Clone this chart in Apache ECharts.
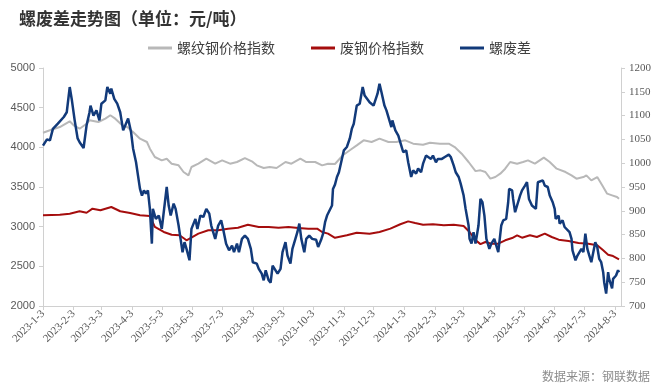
<!DOCTYPE html>
<html><head><meta charset="utf-8">
<script src="https://cdn.jsdelivr.net/npm/echarts@6/dist/echarts.min.js"></script>
<style>html,body{margin:0;padding:0;background:#fff}#c{width:660px;height:390px}</style>
</head><body><div id="c"></div>
<script>
const titleText = '螺废差走势图（单位：元/吨）';
const sourceText = '数据来源：钢联数据';
const seriesNames = ['螺纹钢价格指数', '废钢价格指数', '螺废差'];
const axisStart = '2023-01-03';
const axisEnd = '2024-08-09';
const tickDay = 3;

const rebarDates = ['2023-01-03','2023-01-10','2023-01-20','2023-01-30','2023-02-03','2023-02-09','2023-02-16','2023-02-19','2023-02-28','2023-03-07','2023-03-12','2023-03-17','2023-03-24','2023-03-29','2023-04-04','2023-04-11','2023-04-18','2023-04-21','2023-04-26','2023-05-03','2023-05-08','2023-05-13','2023-05-20','2023-05-25','2023-05-30','2023-06-02','2023-06-09','2023-06-17','2023-06-26','2023-07-03','2023-07-11','2023-07-18','2023-07-26','2023-08-02','2023-08-07','2023-08-14','2023-08-20','2023-08-27','2023-09-05','2023-09-11','2023-09-20','2023-09-26','2023-10-05','2023-10-12','2023-10-18','2023-10-25','2023-11-02','2023-11-09','2023-11-16','2023-11-23','2023-12-01','2023-12-09','2023-12-18','2023-12-26','2024-01-04','2024-01-12','2024-01-22','2024-01-29','2024-02-08','2024-02-17','2024-02-23','2024-03-01','2024-03-08','2024-03-15','2024-03-20','2024-03-25','2024-03-30','2024-04-04','2024-04-09','2024-04-14','2024-04-19','2024-04-26','2024-05-02','2024-05-07','2024-05-14','2024-05-23','2024-05-29','2024-06-05','2024-06-14','2024-06-20','2024-06-25','2024-07-02','2024-07-05','2024-07-10','2024-07-16','2024-07-21','2024-07-26','2024-07-31','2024-08-05','2024-08-07'];
const rebarValues = [4184,4215,4256,4328,4278,4235,4298,4341,4319,4361,4404,4361,4278,4256,4193,4109,4067,3983,3878,3836,3857,3794,3773,3689,3647,3752,3794,3857,3794,3836,3794,3815,3865,3824,3773,3740,3752,3740,3815,3794,3857,3815,3815,3773,3794,3790,3900,3963,4025,4088,4067,4109,4067,4067,4088,4046,4033,4058,4046,4046,4004,3920,3815,3700,3710,3689,3605,3626,3668,3731,3815,3794,3815,3836,3794,3870,3815,3731,3689,3647,3605,3626,3647,3584,3626,3521,3416,3395,3374,3353];

const scrapDates = ['2023-01-03','2023-01-20','2023-01-30','2023-02-09','2023-02-16','2023-02-22','2023-03-02','2023-03-13','2023-03-22','2023-04-01','2023-04-11','2023-04-21','2023-04-26','2023-05-05','2023-05-13','2023-05-21','2023-05-28','2023-05-30','2023-06-09','2023-06-19','2023-06-29','2023-07-09','2023-07-19','2023-07-29','2023-08-09','2023-08-19','2023-08-29','2023-09-08','2023-09-18','2023-09-28','2023-10-07','2023-10-12','2023-10-18','2023-10-25','2023-11-06','2023-11-16','2023-11-29','2023-12-09','2023-12-20','2023-12-30','2024-01-07','2024-01-14','2024-01-22','2024-02-01','2024-02-12','2024-02-22','2024-03-03','2024-03-09','2024-03-15','2024-03-20','2024-03-25','2024-03-31','2024-04-07','2024-04-14','2024-04-21','2024-04-26','2024-05-01','2024-05-09','2024-05-16','2024-05-24','2024-05-31','2024-06-07','2024-06-17','2024-06-27','2024-07-07','2024-07-16','2024-07-22','2024-07-27','2024-08-01','2024-08-07'];
const scrapValues = [3143,3151,3164,3194,3176,3227,3206,3248,3194,3172,3143,3134,2996,2933,2899,2891,2828,2828,2912,2954,2954,2975,2987,3025,2996,2996,2987,2996,2983,2975,2975,2933,2912,2860,2891,2924,2912,2933,2975,3030,3067,3046,3025,3030,3017,3025,3008,2933,2830,2780,2807,2785,2785,2828,2857,2891,2861,2891,2870,2912,2870,2836,2819,2794,2785,2765,2702,2647,2630,2589];

const spreadDates = ['2023-01-03','2023-01-07','2023-01-10','2023-01-13','2023-01-18','2023-01-24','2023-01-27','2023-01-30','2023-02-01','2023-02-04','2023-02-07','2023-02-09','2023-02-13','2023-02-16','2023-02-19','2023-02-20','2023-02-23','2023-02-26','2023-03-01','2023-03-03','2023-03-07','2023-03-09','2023-03-12','2023-03-13','2023-03-16','2023-03-19','2023-03-22','2023-03-25','2023-03-27','2023-03-30','2023-04-02','2023-04-04','2023-04-07','2023-04-09','2023-04-11','2023-04-13','2023-04-15','2023-04-17','2023-04-19','2023-04-21','2023-04-23','2023-04-24','2023-04-27','2023-04-30','2023-05-03','2023-05-05','2023-05-08','2023-05-10','2023-05-12','2023-05-15','2023-05-17','2023-05-20','2023-05-22','2023-05-24','2023-05-26','2023-05-28','2023-05-31','2023-06-02','2023-06-06','2023-06-08','2023-06-11','2023-06-14','2023-06-17','2023-06-20','2023-06-22','2023-06-26','2023-06-29','2023-07-02','2023-07-04','2023-07-07','2023-07-10','2023-07-13','2023-07-15','2023-07-18','2023-07-20','2023-07-23','2023-07-26','2023-07-29','2023-08-01','2023-08-03','2023-08-07','2023-08-09','2023-08-12','2023-08-14','2023-08-16','2023-08-19','2023-08-21','2023-08-23','2023-08-25','2023-08-28','2023-08-31','2023-09-02','2023-09-05','2023-09-07','2023-09-10','2023-09-12','2023-09-15','2023-09-17','2023-09-19','2023-09-21','2023-09-24','2023-09-26','2023-09-29','2023-10-02','2023-10-06','2023-10-08','2023-10-11','2023-10-13','2023-10-15','2023-10-17','2023-10-19','2023-10-22','2023-10-23','2023-10-25','2023-10-27','2023-10-29','2023-11-01','2023-11-03','2023-11-06','2023-11-09','2023-11-11','2023-11-13','2023-11-16','2023-11-19','2023-11-22','2023-11-24','2023-11-26','2023-11-29','2023-12-01','2023-12-03','2023-12-05','2023-12-07','2023-12-09','2023-12-11','2023-12-14','2023-12-16','2023-12-19','2023-12-21','2023-12-22','2023-12-25','2023-12-28','2023-12-31','2024-01-02','2024-01-05','2024-01-07','2024-01-10','2024-01-12','2024-01-15','2024-01-17','2024-01-20','2024-01-22','2024-01-25','2024-01-27','2024-01-30','2024-02-01','2024-02-04','2024-02-06','2024-02-10','2024-02-13','2024-02-17','2024-02-19','2024-02-22','2024-02-24','2024-02-27','2024-02-29','2024-03-03','2024-03-05','2024-03-08','2024-03-09','2024-03-11','2024-03-13','2024-03-15','2024-03-18','2024-03-20','2024-03-22','2024-03-24','2024-03-26','2024-03-29','2024-03-31','2024-04-03','2024-04-05','2024-04-07','2024-04-10','2024-04-12','2024-04-15','2024-04-17','2024-04-18','2024-04-21','2024-04-22','2024-04-24','2024-04-27','2024-04-29','2024-05-01','2024-05-04','2024-05-06','2024-05-08','2024-05-11','2024-05-13','2024-05-15','2024-05-17','2024-05-19','2024-05-22','2024-05-24','2024-05-27','2024-05-29','2024-06-01','2024-06-03','2024-06-04','2024-06-07','2024-06-08','2024-06-11','2024-06-13','2024-06-15','2024-06-18','2024-06-20','2024-06-21','2024-06-24','2024-06-26','2024-06-28','2024-06-30','2024-07-02','2024-07-04','2024-07-06','2024-07-08','2024-07-10','2024-07-12','2024-07-14','2024-07-16','2024-07-18','2024-07-20','2024-07-22','2024-07-23','2024-07-25','2024-07-27','2024-07-28','2024-07-31','2024-08-01','2024-08-04','2024-08-06','2024-08-07'];
const spreadValues = [1037,1050,1048,1072,1083,1097,1107,1160,1135,1090,1052,1044,1032,1079,1107,1121,1100,1111,1090,1125,1132,1160,1146,1157,1135,1125,1107,1069,1072,1094,1065,1031,1002,974,946,932,943,936,943,904,831,904,883,890,862,862,950,911,890,915,904,869,841,813,834,820,796,862,883,862,890,887,904,894,869,841,869,880,862,831,817,827,813,831,813,841,848,841,820,792,789,778,768,754,775,754,749,785,789,768,778,813,834,806,789,820,841,855,873,841,813,841,848,841,839,824,839,852,876,890,887,911,946,955,971,981,1009,1027,1034,1052,1072,1083,1121,1125,1160,1142,1139,1128,1132,1121,1118,1146,1167,1149,1121,1111,1090,1076,1090,1069,1058,1037,1023,1027,1002,971,985,978,989,981,999,1016,1016,1009,1016,1002,1009,1009,1013,1018,1013,995,981,971,957,932,904,869,841,831,855,831,869,925,918,890,841,820,831,841,827,813,869,880,883,918,946,943,925,897,918,932,943,953,960,925,911,911,904,960,964,964,953,950,932,918,904,883,890,873,880,866,862,855,841,817,796,806,806,820,813,852,820,806,792,813,834,824,799,792,771,750,726,771,757,737,757,764,775,771];

// calendar-day category axis
function fmt(d){const m=d.getUTCMonth()+1, dd=d.getUTCDate();return d.getUTCFullYear()+'-'+(m<10?'0':'')+m+'-'+(dd<10?'0':'')+dd;}
const categories = [];
for (let d = new Date(axisStart+'T00:00:00Z'); fmt(d) <= axisEnd; d.setUTCDate(d.getUTCDate()+1)) categories.push(fmt(d));
const isTick = (i, v) => +v.slice(8) === tickDay;
const pair = (ds, vs) => ds.map((d, i) => [d, vs[i]]);

const chart = echarts.init(document.getElementById('c'));
const axisColor = '#d0d0d0';
const labelColor = '#595959';
chart.setOption({
  animation: false,
  backgroundColor: '#fff',
  title: [
    {text: titleText, left: 14, top: 5, textStyle: {fontSize: 17, fontWeight: 'bold', color: '#333', fontFamily: 'Noto Sans CJK SC'}},
    {text: sourceText, right: 5, bottom: 3, textStyle: {fontSize: 12, fontWeight: 'normal', color: '#8c8c8c', fontFamily: 'Noto Sans CJK SC'}}
  ],
  legend: {
    top: 36, left: 143, itemGap: 36, itemWidth: 24, itemHeight: 3, icon: 'rect',
    textStyle: {fontSize: 14, color: '#404040', fontFamily: 'Noto Sans CJK SC'},
    data: seriesNames
  },
  grid: {left: 43, right: 39, top: 68, bottom: 84},
  xAxis: {
    type: 'category', data: categories, boundaryGap: false,
    axisLine: {lineStyle: {color: axisColor}},
    axisTick: {interval: isTick, length: 4, lineStyle: {color: axisColor}},
    axisLabel: {interval: isTick, rotate: 45, fontSize: 11, color: labelColor, fontFamily: 'Liberation Serif', margin: 6,
      formatter: v => v.split('-').map(Number).join('-')},
    splitLine: {show: false}
  },
  yAxis: [
    {type: 'value', min: 2000, max: 5000, interval: 500, position: 'left',
     axisLine: {show: true, lineStyle: {color: axisColor}},
     axisTick: {show: true, length: 4, lineStyle: {color: axisColor}},
     axisLabel: {fontSize: 11, color: labelColor, fontFamily: 'Liberation Sans', margin: 8, formatter: v => String(v)},
     splitLine: {show: false}},
    {type: 'value', min: 700, max: 1200, interval: 50, position: 'right',
     axisLine: {show: true, lineStyle: {color: axisColor}},
     axisTick: {show: true, length: 4, lineStyle: {color: axisColor}},
     axisLabel: {fontSize: 11, color: labelColor, fontFamily: 'Liberation Serif', margin: 8, formatter: v => String(v)},
     splitLine: {show: false}}
  ],
  series: [
    {name: seriesNames[0], type: 'line', yAxisIndex: 0, symbol: 'none', data: pair(rebarDates, rebarValues),
     lineStyle: {color: '#b8b8b8', width: 2}, itemStyle: {color: '#b8b8b8'}, z: 2},
    {name: seriesNames[1], type: 'line', yAxisIndex: 0, symbol: 'none', data: pair(scrapDates, scrapValues),
     lineStyle: {color: '#a50d0d', width: 2}, itemStyle: {color: '#a50d0d'}, z: 3},
    {name: seriesNames[2], type: 'line', yAxisIndex: 1, symbol: 'none', data: pair(spreadDates, spreadValues),
     lineStyle: {color: '#123a7a', width: 2.5}, itemStyle: {color: '#123a7a'}, z: 4}
  ]
});
</script></body></html>
